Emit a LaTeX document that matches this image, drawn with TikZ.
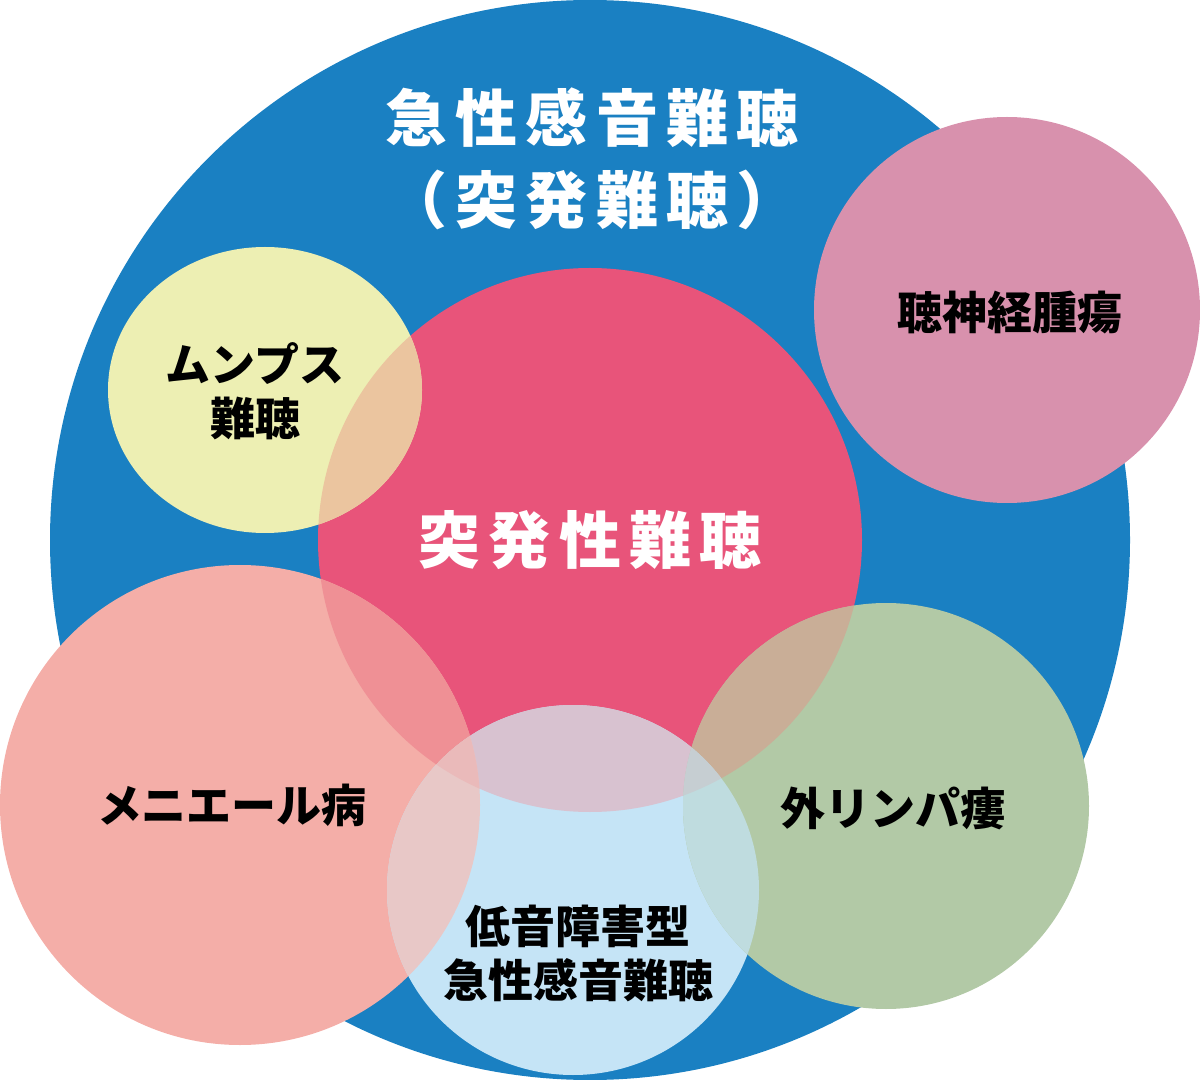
\documentclass[tikz,border=0pt]{standalone}
\usepackage{fontspec}
\setmainfont{Noto Sans CJK JP}
\usepackage{tikz}

\definecolor{bgblue}{HTML}{1A80C2}
\definecolor{suddenred}{HTML}{E8547A}
\definecolor{mumpsyellow}{HTML}{EDEFB3}
\definecolor{tumorpink}{HTML}{D891AD}
\definecolor{menieresalmon}{HTML}{F4AEA8}
\definecolor{lowblue}{HTML}{C5E4F6}
\definecolor{fistulagreen}{HTML}{B2C9A6}
\definecolor{yellowred}{HTML}{EBC59F}
\definecolor{salmonred}{HTML}{EF9095}
\definecolor{bluered}{HTML}{D8C2D0}
\definecolor{bluesalmon}{HTML}{E8C8C7}
\definecolor{bluesalmonred}{HTML}{EABABA}
\definecolor{greenred}{HTML}{C9AE97}
\definecolor{greenblue}{HTML}{BFDCDF}
\definecolor{greenbluered}{HTML}{C6CED2}

\tikzset{
  biglabel/.style={inner sep=0pt, text=white, align=center,
    font=\bfseries\fontsize{31}{41}\selectfont\addfontfeatures{LetterSpace=13}},
  smalllabel/.style={inner sep=0pt, text=black, align=center,
    font=\bfseries\fontsize{22.5}{27}\selectfont}
}

\begin{document}
\begin{tikzpicture}[x=0.5pt,y=-0.5pt]
\useasboundingbox (0,0) rectangle (1200,1080);
\coordinate (whole) at (590,540);
\coordinate (sudden) at (590,540);
\coordinate (mumps) at (265,390);
\coordinate (tumor) at (1007,310);
\coordinate (meniere) at (240,805);
\coordinate (lowtone) at (573,890);
\coordinate (fistula) at (886,806);
% objects at depth 100:
\path[fill=bgblue] (whole) circle[radius=540];
% objects at depth 75:
\path[fill=suddenred] (sudden) circle[radius=272];
\path[fill=mumpsyellow] (mumps) circle[x radius=157,y radius=143];
\path[fill=tumorpink] (tumor) circle[radius=193];
\path[fill=menieresalmon] (meniere) circle[radius=240];
\path[fill=lowblue] (lowtone) circle[x radius=186,y radius=185];
\path[fill=fistulagreen] (fistula) circle[radius=203];
% objects at depth 50: overlaps
\begin{scope}
\clip (sudden) circle[radius=272];
\path[fill=yellowred] (mumps) circle[x radius=157,y radius=143];
\path[fill=salmonred] (meniere) circle[radius=240];
\path[fill=bluered] (lowtone) circle[x radius=186,y radius=185];
\path[fill=greenred] (fistula) circle[radius=203];
\end{scope}
\begin{scope}
\clip (lowtone) circle[x radius=186,y radius=185];
\path[fill=bluesalmon] (meniere) circle[radius=240];
\path[fill=greenblue] (fistula) circle[radius=203];
\clip (sudden) circle[radius=272];
\path[fill=bluesalmonred] (meniere) circle[radius=240];
\path[fill=greenbluered] (fistula) circle[radius=203];
\end{scope}
% objects at depth 25: labels
\node[biglabel] (titlelabel) at (592,159) {急性感音難聴\\（突発難聴）};
\node[biglabel] (suddenlabel) at (590,540) {突発性難聴};
\node[smalllabel] (tumorlabel) at (1010,312) {聴神経腫瘍};
\node[smalllabel] (mumpslabel) at (255,391) {ムンプス\\難聴};
\node[smalllabel] (menierelabel) at (232,805) {メニエール病};
\node[smalllabel] (fistulalabel) at (893,808) {外リンパ瘻};
\node[smalllabel] (lowtonelabel) at (578,953) {低音障害型\\急性感音難聴};
\end{tikzpicture}
\end{document}
